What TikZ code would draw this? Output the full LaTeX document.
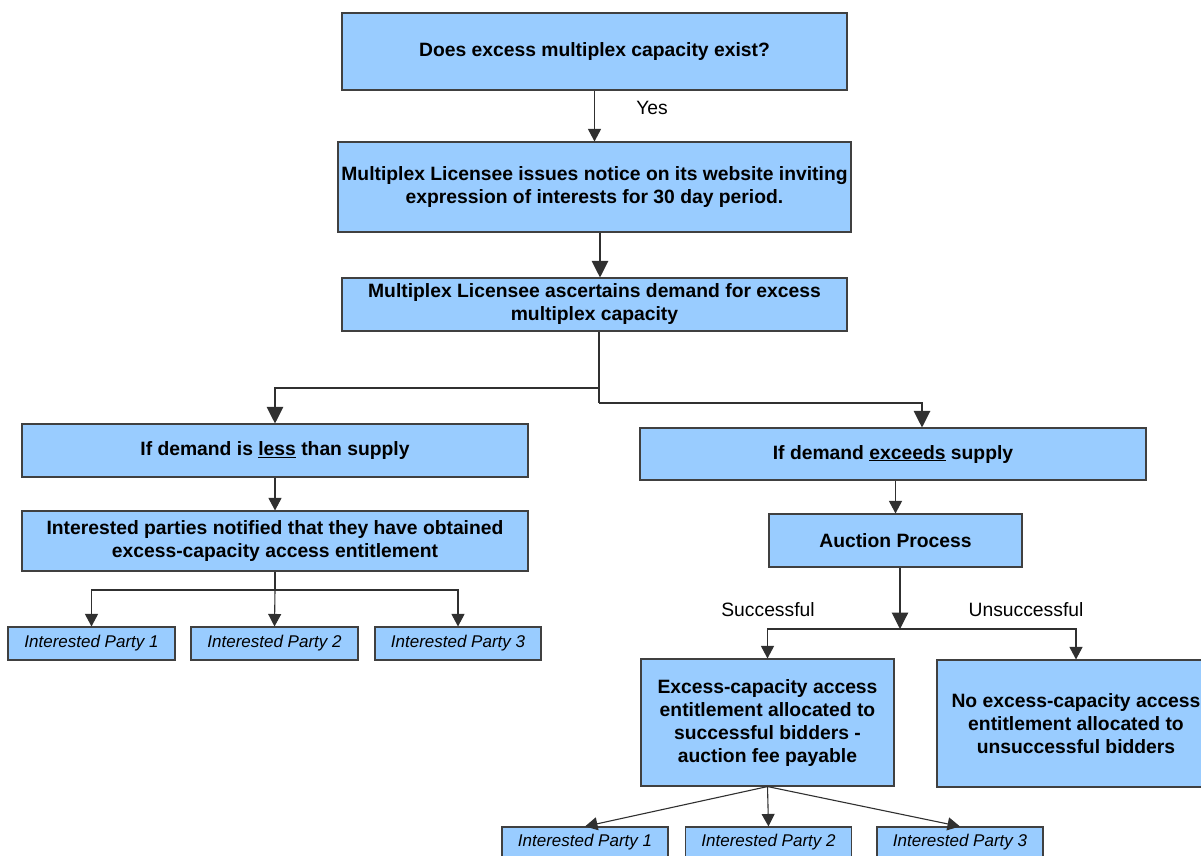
\documentclass[tikz,border=0pt]{standalone}
\usepackage{fontspec}
\setmainfont{Liberation Sans}
\usetikzlibrary{arrows.meta,calc}
\definecolor{boxfill}{HTML}{99CCFF}
\definecolor{boxline}{HTML}{404040}
\definecolor{lineclr}{HTML}{303030}
\begin{document}
\begin{tikzpicture}[x=1pt,y=-1pt,
 box/.style={draw=boxline, fill=boxfill, line width=1.1pt, align=center, inner sep=0pt, font=\bfseries\fontsize{19.3}{23}\selectfont},
 pbox/.style={draw=boxline, fill=boxfill, line width=1.1pt, inner sep=0pt, minimum height=33pt, minimum width=167pt, font=\itshape\fontsize{17}{20}\selectfont},
 conn/.style={draw=lineclr, line width=1.1pt},
 arr/.style={conn, -{Triangle[width=13pt,length=12.5pt]}},
 bigarr/.style={conn, -{Triangle[width=16.5pt,length=16.5pt]}},
 lbl/.style={font=\fontsize{19.3}{22}\selectfont, inner sep=0pt}
]
\path[use as bounding box, fill=white] (0,0) rectangle (1201,855);
\begin{scope}
\clip (0,0) rectangle (1201,855);

% main column
\node[box, minimum width=505pt, minimum height=77pt] (b1) at (594.5,51.5) {Does excess multiplex capacity exist?};
\node[box, minimum width=513pt, minimum height=90pt] (b2) at (594.5,187) {Multiplex Licensee issues notice on its website inviting\\expression of interests for 30 day period.};
\node[box, minimum width=505pt, minimum height=53pt] (b3) at (594.5,304.5) {Multiplex Licensee ascertains demand for excess\\multiplex capacity};

% left branch
\node[box, minimum width=506pt, minimum height=53pt] (b4) at (275,450.5) {If demand is \underline{less} than supply};
\node[box, minimum width=506pt, minimum height=60pt] (b6) at (275,541) {Interested parties notified that they have obtained\\excess-capacity access entitlement};
\node[pbox] (p1) at (91.5,643.5) {Interested Party 1};
\node[pbox] (p2) at (274.5,643.5) {Interested Party 2};
\node[pbox, minimum width=166pt] (p3) at (458,643.5) {Interested Party 3};

% right branch
\node[box, minimum width=506pt, minimum height=52pt] (b5) at (893,454) {If demand \underline{exceeds} supply};
\node[box, minimum width=253pt, minimum height=53pt] (auc) at (895.5,540.5) {Auction Process};
\node[box, minimum width=253pt, minimum height=127pt] (b7) at (767.5,722.5) {Excess-capacity access\\entitlement allocated to\\successful bidders -\\auction fee payable};
\node[box, minimum width=278pt, minimum height=127pt] (b8) at (1076,723.5) {No excess-capacity access\\entitlement allocated to\\unsuccessful bidders};
\node[pbox, minimum width=166pt, minimum height=30pt] (q1) at (585,842) {Interested Party 1};
\node[pbox, minimum width=166pt, minimum height=30pt] (q2) at (768.5,842) {Interested Party 2};
\node[pbox, minimum width=166pt, minimum height=30pt] (q3) at (960,842) {Interested Party 3};

% labels
\node[lbl] (yes) at (652,108) {Yes};
\node[lbl] (succ) at (768,610) {Successful};
\node[lbl] (unsucc) at (1026,610) {Unsuccessful};

% junctions
\coordinate (j1) at (599,388);
\coordinate (j2) at (599,403);
\coordinate (j3) at (275,590);
\coordinate (j4) at (900,629);

% connectors
\draw[arr] (b1.south) -- (b2.north);
\draw[bigarr] ([xshift=5.5pt]b2.south) -- ([xshift=5.5pt]b2.south |- b3.north);
\draw[conn] ([xshift=4.5pt]b3.south) -- (j2);
\draw[bigarr] (j1) -| (b4.north);
\draw[bigarr] (j2) -| ([xshift=29pt]b5.north);

\draw[arr] (b4.south) -- (b6.north);
\draw[conn] (b6.south) -- (j3);
\draw[arr] (j3) -| (p1.north);
\draw[arr] (j3) -- (p2.north);
\draw[arr] (j3) -| (p3.north);

\draw[arr] (b5.south -| auc.north) -- (auc.north);
\draw[bigarr] ([xshift=4.5pt]auc.south) -- (j4);
\draw[arr] (j4) -| (b7.north);
\draw[arr] (j4) -| (b8.north);

\draw[arr] (b7.south) -- (q1.north);
\draw[arr] (b7.south) -- (q2.north);
\draw[arr] (b7.south) -- (q3.north);
\end{scope}
\end{tikzpicture}
\end{document}
